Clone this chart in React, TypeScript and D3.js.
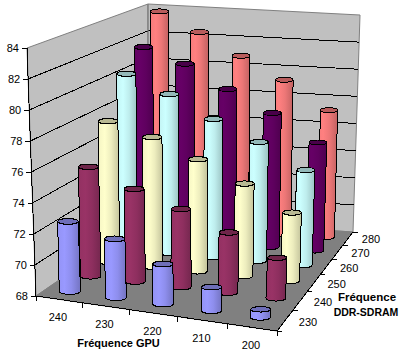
import React from "react";
import * as d3 from "d3";

const gpuLabels = ["240", "230", "220", "210", "200"];
const ddrLabels = ["230", "240", "250", "260", "270", "280"];
const yTicks = [68, 70, 72, 74, 76, 78, 80, 82, 84];
const ddr230 = [72.55, 71.8, 70.57, 69.5, 68.5];
const ddr240 = [75.3, 74.15, 73.15, 71.95, 70.65];
const ddr250 = [77.64, 76.83, 75.6, 74.25, 72.6];
const ddr260 = [80.3, 79.1, 77.6, 76.25, 74.57];
const ddr270 = [81.64, 80.64, 79.03, 77.54, 75.67];
const ddr280 = [83.74, 82.4, 80.83, 79.26, 77.24];
const seriesValues = [ddr230, ddr240, ddr250, ddr260, ddr270, ddr280];
const seriesColors = ["#9999FF", "#993366", "#FFFFCC", "#CCFFFF", "#660066", "#FF8080"];

type P = [number, number];
function homography(q: P[]) {
  const [[x0, y0], [x1, y1], [x2, y2], [x3, y3]] = q;
  const dx1 = x1 - x2, dx2 = x3 - x2, sx = x0 - x1 + x2 - x3;
  const dy1 = y1 - y2, dy2 = y3 - y2, sy = y0 - y1 + y2 - y3;
  const det = dx1 * dy2 - dx2 * dy1;
  const g = (sx * dy2 - dx2 * sy) / det;
  const h = (dx1 * sy - sx * dy1) / det;
  const a = x1 - x0 + g * x1, b = x3 - x0 + h * x3;
  const d = y1 - y0 + g * y1, e = y3 - y0 + h * y3;
  return (u: number, v: number): P => {
    const w = g * u + h * v + 1;
    return [(a * u + b * v + x0) / w, (d * u + e * v + y0) / w];
  };
}
// projection: floor & ceiling quads (front-left, front-right, back-right, back-left)
const floor = homography([[36, 296], [277, 331], [353, 232], [148, 219]]);
const ceil = homography([[27, 48], [287, 76], [360, 15], [148, 4]]);
const uScale = d3.scaleBand<string>().domain(gpuLabels).range([0, 1]);
const vScale = d3.scaleBand<string>().domain(ddrLabels).range([0, 1]);
const zScale = d3.scaleLinear().domain([68, 84]).range([0, 1]);
const warp = (u: number, v: number) => u + (0.16 - 0.09 * v) * u * (1 - u);
function project(u0: number, v: number, val: number): P {
  const u = warp(u0, v);
  const t = zScale(val);
  const a = floor(u, v), b = ceil(u, v);
  return [a[0] + (b[0] - a[0]) * t, a[1] + (b[1] - a[1]) * t];
}
const shade = (c: string, k: number) => {
  const r = d3.rgb(c);
  return d3.rgb(r.r * k, r.g * k, r.b * k).formatHex();
};
const line = d3.line();
const font = "'Liberation Sans', Arial, sans-serif";

function Cylinder({ u, v, val, color, id }: { u: number; v: number; val: number; color: string; id: string }) {
  const bc = project(u, v, 68);
  const tc = project(u, v, val);
  const rb = 10.8 - 1.6 * v - 0.6 * u;
  const rt = rb * 0.97;
  const ryb = rb * 0.3, ryt = rt * 0.28;
  const side = `M${tc[0] - rt},${tc[1]} L${bc[0] - rb},${bc[1]} A${rb},${ryb} 0 0 0 ${bc[0] + rb},${bc[1]} L${tc[0] + rt},${tc[1]} A${rt},${ryt} 0 0 1 ${tc[0] - rt},${tc[1]} Z`;
  return (
    <g stroke="#000" strokeWidth={1}>
      <defs>
        <linearGradient id={id} x1="0" x2="1" y1="0" y2="0">
          <stop offset="0" stopColor={shade(color, 0.96)} />
          <stop offset="0.3" stopColor={color} />
          <stop offset="0.6" stopColor={shade(color, 0.93)} />
          <stop offset="1" stopColor={shade(color, 0.76)} />
        </linearGradient>
      </defs>
      <path d={side} fill={`url(#${id})`} shapeRendering="crispEdges" />
      <ellipse cx={tc[0]} cy={tc[1]} rx={rt} ry={ryt} fill={shade(color, 0.72)} shapeRendering="crispEdges" />
    </g>
  );
}

export default function App() {
  const A = project(0, 0, 68), B = project(1, 0, 68), C = project(1, 1, 68), D = project(0, 1, 68);
  const At = project(0, 0, 84), Ct = project(1, 1, 84), Dt = project(0, 1, 84);
  const poly = (ps: P[]) => "M" + ps.map((p) => p.join(",")).join("L") + "Z";
  return (
    <svg width={408} height={358} style={{ position: "absolute", left: 0, top: 0, background: "#fff" }} fontFamily={font} fontSize={11}>
      <path d={poly([A, D, Dt, At])} fill="#C0C0C0" stroke="#808080" />
      <path d={poly([D, C, Ct, Dt])} fill="#C0C0C0" stroke="#808080" />
      <path d={poly([A, B, C, D])} fill="#808080" stroke="#808080" />
      {yTicks.map((t) => (
        <g key={t}>
          {t > 68 && t < 84 && <path d={line([project(0, 0, t), project(0, 1, t), project(1, 1, t)])!} fill="none" stroke="#000" shapeRendering="crispEdges" />}
          {t === 84 && <path d={line([project(0, 1, t), project(0, 1, 68)])!} stroke="#808080" />}
          <path d={line([project(0, 0, t), [project(0, 0, t)[0] - 5, project(0, 0, t)[1] + 0.5]])!} stroke="#000" shapeRendering="crispEdges" />
          <text x={project(0, 0, t)[0] - 8} y={project(0, 0, t)[1] + 4} textAnchor="end" fill="#000">{t}</text>
        </g>
      ))}
      <path d={line([project(0, 0, 84), project(0, 0, 68)])!} stroke="#000" shapeRendering="crispEdges" />
      {/* floor axes */}
      <path d={line([A, B, C])!} fill="none" stroke="#000" shapeRendering="crispEdges" />
      {d3.range(0, gpuLabels.length + 1).map((i) => {
        const p = project(i / gpuLabels.length, 0, 68);
        return <path key={i} d={line([p, [p[0], p[1] + 5]])!} stroke="#000" shapeRendering="crispEdges" />;
      })}
      {d3.range(0, ddrLabels.length + 1).map((i) => {
        const p = project(1, i / ddrLabels.length, 68);
        return <path key={i} d={line([p, [p[0] + 5, p[1]]])!} stroke="#000" shapeRendering="crispEdges" />;
      })}
      {seriesValues.map((_, j) => seriesValues.length - 1 - j).map((j) =>
        seriesValues[j].map((val, i) => (
          <Cylinder
            key={`${j}-${i}`}
            id={`g${j}-${i}`}
            u={uScale(gpuLabels[i])! + uScale.bandwidth() / 2}
            v={vScale(ddrLabels[j])! + vScale.bandwidth() / 2}
            val={val}
            color={seriesColors[j]}
          />
        ))
      )}
      {gpuLabels.map((l) => {
        const p = project(uScale(l)! + uScale.bandwidth() / 2, 0, 68);
        return <text key={l} x={p[0] - 1} y={p[1] + 22} textAnchor="middle" fill="#000">{l}</text>;
      })}
      {ddrLabels.map((l) => {
        const p = project(1, vScale(l)! + vScale.bandwidth() / 2, 68);
        return <text key={l} x={p[0] + 23} y={p[1] + 5} textAnchor="middle" fill="#000">{l}</text>;
      })}
      <text x={118.5} y={347} textAnchor="middle" fontWeight="bold" fontSize={11} fill="#000">Fréquence GPU</text>
      <text x={367} y={301} textAnchor="middle" fontWeight="bold" fontSize={11.5} fill="#000">Fréquence</text>
      <text x={366} y={316} textAnchor="middle" fontWeight="bold" fontSize={10.5} fill="#000">DDR-SDRAM</text>
    </svg>
  );
}
